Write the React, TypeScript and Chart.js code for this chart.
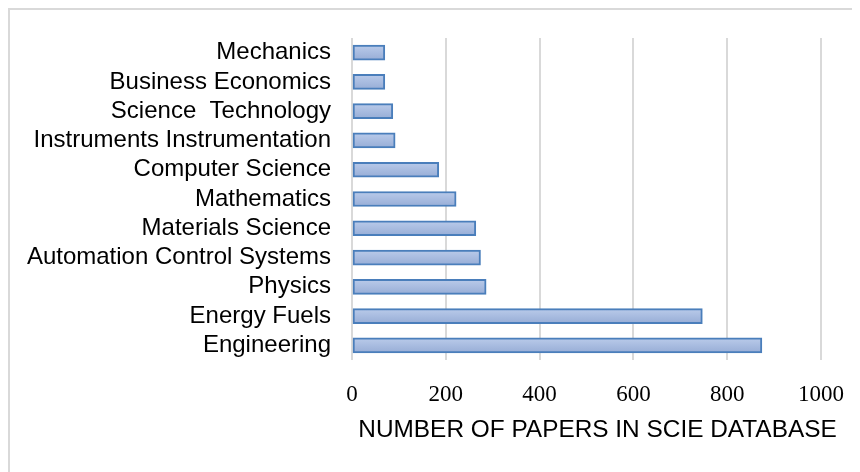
import React, { useEffect, useRef } from 'react';
import { Chart, registerables } from 'chart.js';

Chart.register(...registerables);

// Subject categories, listed from the bottom bar upward
const categories = [
  'Engineering',
  'Energy Fuels',
  'Physics',
  'Automation Control Systems',
  'Materials Science',
  'Mathematics',
  'Computer Science',
  'Instruments Instrumentation',
  'Science  Technology',
  'Business Economics',
  'Mechanics',
];

// Number of papers per category
const papers = [874, 747, 286, 274, 264, 222, 185, 92, 87, 70, 70];

// Value-axis tick positions
const xTicks = [0, 200, 400, 600, 800, 1000];

const axisTitle = 'NUMBER OF PAPERS IN SCIE DATABASE';

const SANS = "'Liberation Sans', Arial, sans-serif";
const SERIF = "'Liberation Serif', 'Times New Roman', serif";

// Value-axis title, set a little right of the plot centre under the ticks
const axisTitlePlugin = {
  id: 'axisTitle',
  afterDraw(chart: any) {
    const { ctx, chartArea } = chart;
    ctx.save();
    ctx.font = `24.4px ${SANS}`;
    ctx.fillStyle = '#000';
    ctx.textAlign = 'center';
    ctx.textBaseline = 'middle';
    ctx.fillText(axisTitle, (chartArea.left + chartArea.right) / 2 + 11, chartArea.bottom + 70);
    ctx.restore();
  },
};

export default function App() {
  const canvasRef = useRef<HTMLCanvasElement>(null);

  useEffect(() => {
    document.documentElement.style.overflow = 'hidden';
    document.body.style.overflow = 'hidden';
    const canvas = canvasRef.current;
    if (!canvas) return;

    const chart = new Chart(canvas, {
      type: 'bar',
      data: {
        labels: categories,
        datasets: [
          {
            data: papers,
            // soft top-to-bottom shading of each bar
            backgroundColor: (c: any) => {
              const ch = c.chart;
              const y = ch.scales && ch.scales.y;
              if (!y || c.dataIndex === undefined) return '#a8bce0';
              const py = y.getPixelForValue(c.dataIndex);
              if (!Number.isFinite(py)) return '#a8bce0';
              const g = ch.ctx.createLinearGradient(0, py - 7.5, 0, py + 7.5);
              g.addColorStop(0, '#bacbea');
              g.addColorStop(1, '#97add6');
              return g;
            },
            borderColor: '#4a7ebb',
            borderWidth: 2,
            borderSkipped: false,
            barThickness: 15,
          },
        ],
      },
      options: {
        indexAxis: 'y',
        responsive: false,
        maintainAspectRatio: false,
        animation: false,
        devicePixelRatio: 1,
        layout: { padding: { top: 28, right: 39, bottom: 0, left: 0 } },
        plugins: {
          legend: { display: false },
          tooltip: { enabled: false },
        },
        scales: {
          x: {
            min: 0,
            max: 1000,
            afterBuildTicks: (s: any) => {
              s.ticks = xTicks.map((v) => ({ value: v }));
            },
            grid: { color: '#d9d9d9', lineWidth: 2, drawTicks: false },
            border: { display: false },
            ticks: {
              padding: 21,
              color: '#000',
              maxRotation: 0,
              autoSkip: false,
              callback: (v: any) => String(v),
              font: { family: SERIF, size: 23, lineHeight: 1.2 },
            },
            afterFit: (s: any) => {
              s.height = 112;
              s.paddingLeft = 0;
              s.paddingRight = 0;
            },
          },
          y: {
            reverse: true,
            grid: { display: false, drawTicks: false },
            border: { display: false },
            ticks: {
              padding: 21,
              color: '#000',
              autoSkip: false,
              font: { family: SANS, size: 24, lineHeight: 1.2 },
            },
            afterFit: (s: any) => {
              s.width = 342;
              s.paddingTop = 0;
              s.paddingBottom = 0;
            },
          },
        },
      },
      plugins: [axisTitlePlugin],
    } as any);

    return () => chart.destroy();
  }, []);

  return (
    <div
      style={{
        width: 852,
        height: 464,
        boxSizing: 'border-box',
        borderTop: '2px solid #d9d9d9',
        borderLeft: '2px solid #d9d9d9',
        background: '#fff',
      }}
    >
      <canvas
        ref={canvasRef}
        width={850}
        height={462}
        style={{ display: 'block', width: 850, height: 462 }}
      />
    </div>
  );
}
